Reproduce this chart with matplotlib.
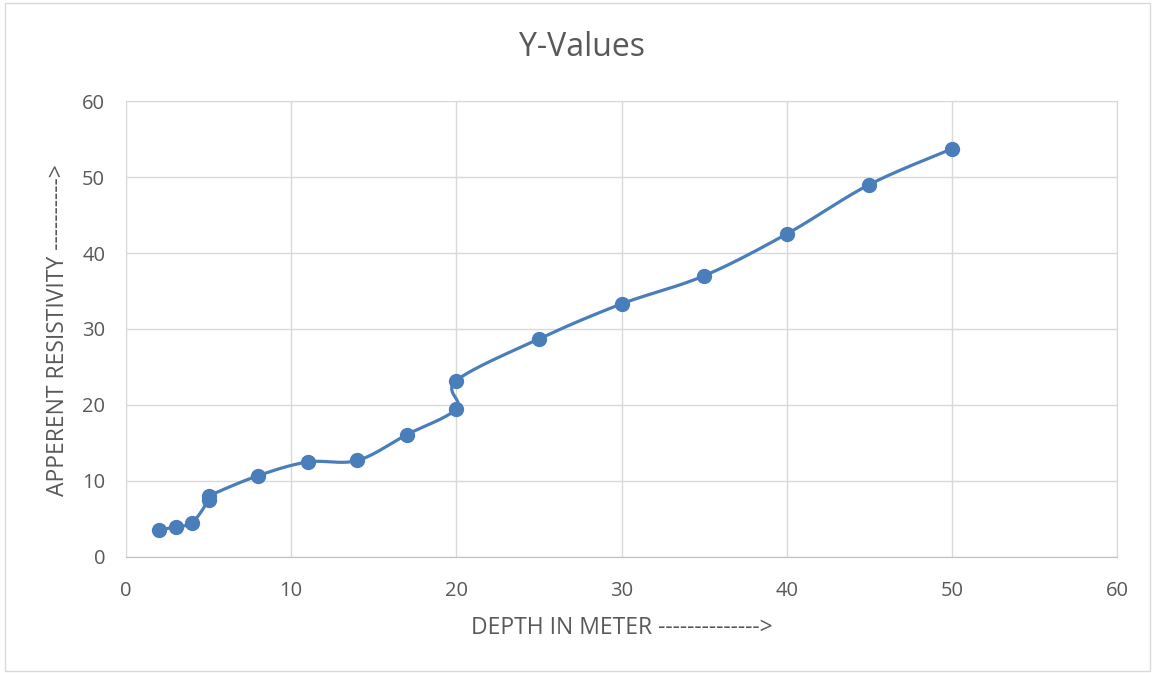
import numpy as np
import matplotlib.pyplot as plt

plt.rcParams['font.family'] = ['Open Sans', 'DejaVu Sans']

depth = [2, 3, 4, 5, 5, 8, 11, 14, 17, 20, 20, 25, 30, 35, 40, 45, 50]
resist = [3.5, 4.0, 4.5, 7.5, 8.0, 10.7, 12.5, 12.7, 16.1, 19.5, 23.2, 28.7, 33.3, 37.0, 42.5, 49.0, 53.7]


def smooth(x, y, n=30):
    # catmull-rom through the points, parametric in index (like excel's smoothed line)
    p = np.column_stack([x, y]).astype(float)
    p = np.vstack([p[0], p, p[-1]])
    out = []
    for i in range(1, len(p) - 2):
        p0, p1, p2, p3 = p[i - 1], p[i], p[i + 1], p[i + 2]
        t = np.linspace(0, 1, n)[:, None]
        seg = 0.5 * ((2 * p1) + (-p0 + p2) * t + (2 * p0 - 5 * p1 + 4 * p2 - p3) * t ** 2
                     + (-p0 + 3 * p1 - 3 * p2 + p3) * t ** 3)
        out.append(seg)
    out = np.vstack(out)
    return out[:, 0], out[:, 1]


fig = plt.figure(figsize=(11.52, 6.73), dpi=100)
ax = fig.add_axes([0.1094, 0.1724, 0.8602, 0.6775])

sx, sy = smooth(depth, resist)
col = '#4a7ebb'
ax.plot(sx, sy, color=col, lw=2.3, zorder=3)
ax.plot(depth, resist, 'o', color=col, ms=10, zorder=4)

ax.set_xlim(0, 60)
ax.set_ylim(0, 60)
ax.set_xticks(range(0, 61, 10))
ax.set_yticks(range(0, 61, 10))
ax.grid(True, color='#d9d9d9', lw=1)
ax.set_axisbelow(True)
for s in ax.spines.values():
    s.set_color('#d9d9d9')
ax.spines['bottom'].set_color('#bfbfbf')
ax.tick_params(axis='x', length=0, labelsize=14.5, labelcolor='#595959', pad=17)
ax.tick_params(axis='y', length=0, labelsize=14.5, labelcolor='#595959', pad=15)

fig.text(0.505, 0.9287, 'Y-Values', fontsize=23, color='#595959', ha='center', va='center')
fig.text(0.540, 0.0669, 'DEPTH IN METER -------------->', fontsize=16.5, color='#595959',
         ha='center', va='center')
fig.text(0.050, 0.5097, 'APPERENT RESISTIVITY ---------->', fontsize=16.5, color='#595959',
         ha='center', va='center', rotation=90)

fig.patches.append(plt.Rectangle((0.004, 0.003), 0.994, 0.993, transform=fig.transFigure,
                                 fill=False, edgecolor='#d9d9d9', lw=1))

fig.savefig('out.png', dpi=100)
